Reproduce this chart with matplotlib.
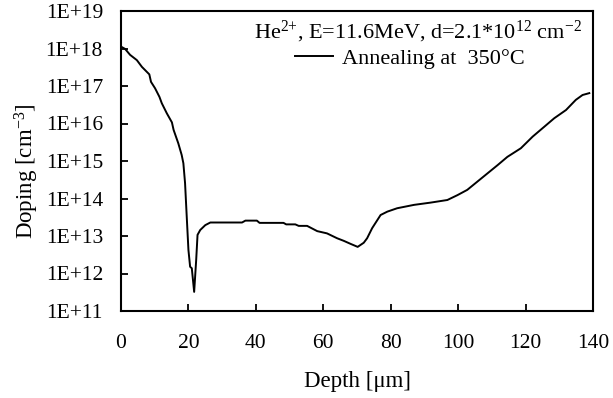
import matplotlib
matplotlib.use("Agg")
import matplotlib.pyplot as plt
import numpy as np

plt.rcParams['font.family'] = ['Liberation Serif', 'DejaVu Serif']
plt.rcParams['mathtext.fontset'] = 'custom'
plt.rcParams['mathtext.rm'] = 'Liberation Serif'
plt.rcParams['mathtext.it'] = 'Liberation Serif:italic'
plt.rcParams['mathtext.bf'] = 'Liberation Serif:bold'

depth = [0.0, 1.2, 2.7, 4.7, 6.2, 8.4, 8.9, 10.1, 11.4, 12.1, 13.6, 15.1, 15.6, 17.0,
         18.0, 18.5, 19.0, 19.5, 20.0, 20.5, 21.0, 21.7, 22.3, 22.7, 23.5, 25.0, 26.5,
         32.4, 35.9, 36.9, 40.3, 41.1, 48.2, 49.0, 51.7, 52.7, 55.2, 58.2, 61.1, 64.1,
         66.1, 68.1, 70.2, 72.0, 73.0, 74.5, 77.0, 79.0, 81.9, 86.9, 91.8, 96.8, 99.8,
         102.7, 105.7, 108.7, 111.7, 114.6, 118.6, 122.1, 125.5, 128.5, 132.0, 134.9,
         136.9, 138.9]
log_doping = [18.05, 17.99, 17.83, 17.69, 17.51, 17.31, 17.11, 16.94, 16.71, 16.54, 16.27,
              16.03, 15.83, 15.47, 15.16, 14.94, 14.41, 13.51, 12.63, 12.18, 12.14, 11.51,
              12.36, 13.03, 13.16, 13.29, 13.36, 13.36, 13.36, 13.41, 13.41, 13.35, 13.35,
              13.31, 13.31, 13.27, 13.27, 13.13, 13.07, 12.94, 12.87, 12.79, 12.71, 12.82,
              12.94, 13.21, 13.56, 13.65, 13.74, 13.83, 13.89, 13.96, 14.09, 14.23, 14.45,
              14.67, 14.89, 15.11, 15.34, 15.65, 15.91, 16.14, 16.36, 16.63, 16.76, 16.81]
doping = [10 ** v for v in log_doping]

xticks = [0, 20, 40, 60, 80, 100, 120, 140]
yticks = [1e11, 1e12, 1e13, 1e14, 1e15, 1e16, 1e17, 1e18, 1e19]
ytick_labels = ['1E+11', '1E+12', '1E+13', '1E+14', '1E+15', '1E+16', '1E+17', '1E+18', '1E+19']

fig = plt.figure(figsize=(6.13, 3.98), dpi=100)
ax = fig.add_axes([121 / 613, 1 - 311 / 398, 472 / 613, 300 / 398])

ax.plot(depth, doping, color='black', linewidth=1.4, label='Annealing at  350°C')
ax.set_yscale('log')
ax.set_xlim(0, 140)
ax.set_ylim(1e11, 1e19)
ax.set_xticks(xticks)
ax.set_xticklabels([str(t) for t in xticks])
ax.set_yticks(yticks)
ax.set_yticklabels(ytick_labels)
ax.yaxis.set_minor_locator(matplotlib.ticker.NullLocator())
ax.tick_params(direction='in', length=5, width=1.3, labelsize=15.5)
ax.tick_params(axis='y', pad=13)
ax.tick_params(axis='x', pad=16.5)
for s in ax.spines.values():
    s.set_linewidth(1.5)

ax.set_xlabel('Depth [μm]', fontsize=16.5)
ax.set_ylabel(r'Doping [cm$^{\mathrm{-3}}$]', fontsize=16.5)
ax.xaxis.set_label_coords(0.5, -0.20)
ax.yaxis.set_label_coords(-0.170, 0.467)

ax.text(0.977, 0.93, r'He$^{\mathrm{2{+}}}$, E=11.6MeV, d=2.1*10$^{\mathrm{12}}$ cm$^{\mathrm{-2}}$',
        transform=ax.transAxes, ha='right', va='center', fontsize=16)
leg = ax.legend(loc='center left', bbox_to_anchor=(0.369, 0.84), frameon=False,
                fontsize=16, handlelength=1.7, handletextpad=0.4, borderpad=0,
                borderaxespad=0)

fig.savefig('out.png', dpi=100)
